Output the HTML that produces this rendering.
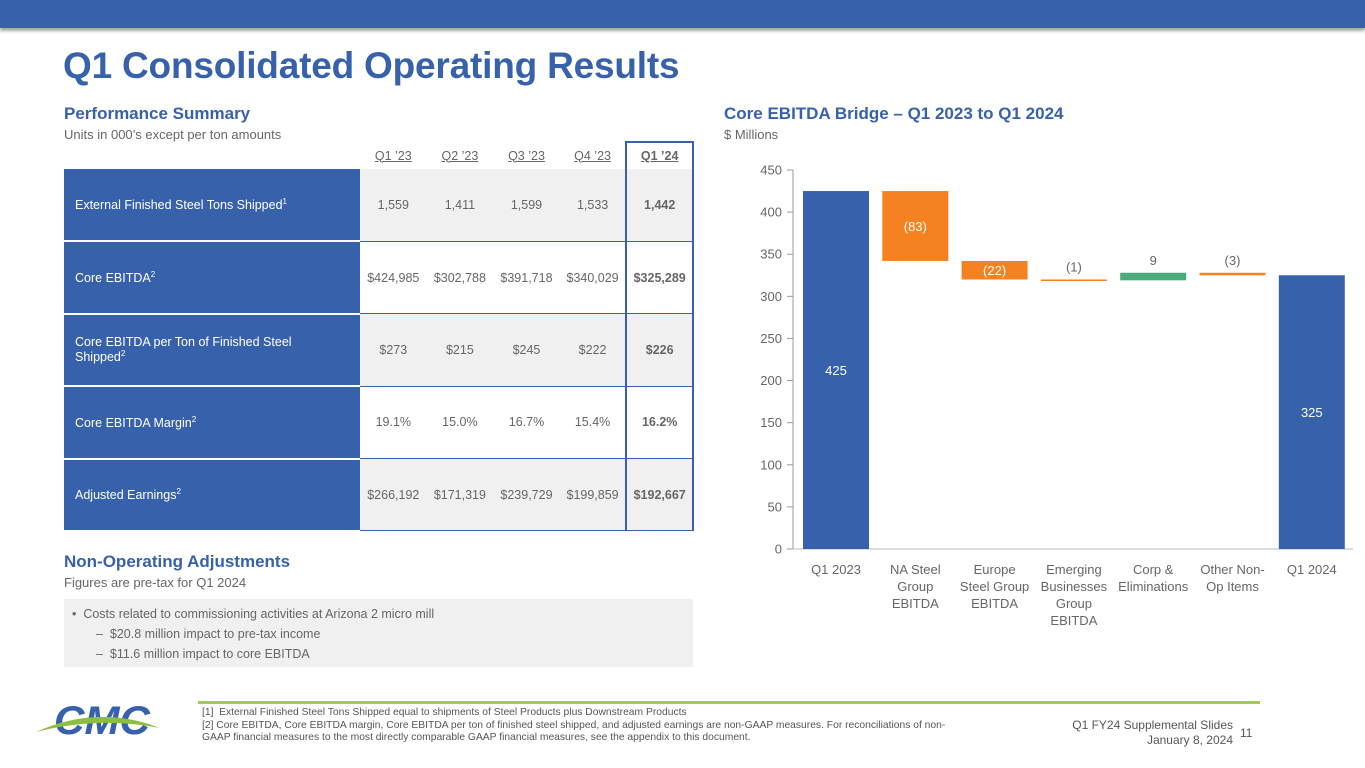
<!DOCTYPE html>
<html><head><meta charset="utf-8">
<style>
body{margin:0;width:1365px;height:768px;position:relative;overflow:hidden;background:#fff;font-family:"Liberation Sans",sans-serif;color:#666}
.a{position:absolute;white-space:nowrap}
.blue{color:#3761ab}
table{border-collapse:collapse;position:absolute;left:64px;top:141px;font-size:12.5px}
td{padding:0;height:72.4px;text-align:center;color:#666;box-sizing:border-box}
td.l{background:#3761ab;color:#fff;text-align:left;padding-left:11px;padding-right:50px;width:296px;border-bottom:2px solid #fff;white-space:normal}
tr.g td.v{background:#f0f0f0}
td.v{width:66.6px;border-bottom:1.5px solid #3761ab}
th{font-weight:normal;text-decoration:underline;font-size:12.5px;color:#666;height:26px;padding:0;text-align:center}
td.b,th.b{font-weight:bold;border-left:2px solid #3761ab;border-right:2px solid #3761ab}
th.b{border-top:2px solid #3761ab}
sup{font-size:8px}
</style></head><body>
<div style="position:absolute;left:0;top:0;width:1365px;height:28px;background:#3761ab;box-shadow:0 3px 3px rgba(0,0,0,.35)"></div>
<div class="a blue" style="left:63px;top:45px;font-size:37px;font-weight:bold;letter-spacing:-0.2px">Q1 Consolidated Operating Results</div>
<div class="a blue" style="left:64px;top:104px;font-size:17px;font-weight:bold">Performance Summary</div>
<div class="a" style="left:64px;top:127px;font-size:13px">Units in 000’s except per ton amounts</div>
<table>
<tr><th style="background:none"></th><th>Q1 ’23</th><th>Q2 ’23</th><th>Q3 ’23</th><th>Q4 ’23</th><th class="b">Q1 ’24</th></tr>
<tr class="g"><td class="l">External Finished Steel Tons Shipped<sup>1</sup></td><td class="v">1,559</td><td class="v">1,411</td><td class="v">1,599</td><td class="v">1,533</td><td class="v b">1,442</td></tr>
<tr><td class="l">Core EBITDA<sup>2</sup></td><td class="v">$424,985</td><td class="v">$302,788</td><td class="v">$391,718</td><td class="v">$340,029</td><td class="v b">$325,289</td></tr>
<tr class="g"><td class="l">Core EBITDA per Ton of Finished Steel Shipped<sup>2</sup></td><td class="v">$273</td><td class="v">$215</td><td class="v">$245</td><td class="v">$222</td><td class="v b">$226</td></tr>
<tr><td class="l">Core EBITDA Margin<sup>2</sup></td><td class="v">19.1%</td><td class="v">15.0%</td><td class="v">16.7%</td><td class="v">15.4%</td><td class="v b">16.2%</td></tr>
<tr class="g"><td class="l">Adjusted Earnings<sup>2</sup></td><td class="v">$266,192</td><td class="v">$171,319</td><td class="v">$239,729</td><td class="v">$199,859</td><td class="v b">$192,667</td></tr>
</table>
<div class="a blue" style="left:64px;top:552px;font-size:17px;font-weight:bold">Non-Operating Adjustments</div>
<div class="a" style="left:64px;top:575px;font-size:13px">Figures are pre-tax for Q1 2024</div>
<div style="position:absolute;left:64px;top:599px;width:629px;height:68px;background:#f0f0f0;font-size:12.5px;line-height:20px">
<div class="a" style="left:8px;top:5px">•&nbsp; Costs related to commissioning activities at Arizona 2 micro mill</div>
<div class="a" style="left:32px;top:25px">–&nbsp; $20.8 million impact to pre-tax income</div>
<div class="a" style="left:32px;top:45px">–&nbsp; $11.6 million impact to core EBITDA</div>
</div>
<div class="a blue" style="left:724px;top:104px;font-size:17px;font-weight:bold">Core EBITDA Bridge – Q1 2023 to Q1 2024</div>
<div class="a" style="left:724px;top:127px;font-size:13px">$ Millions</div>
<svg id="chart" style="position:absolute;left:0;top:0" width="1365" height="768"></svg>
<div style="position:absolute;left:36px;top:698px;width:124px;height:44px">
<svg width="124" height="44"><text x="66" y="36" text-anchor="middle" font-family="Liberation Sans" font-weight="bold" font-style="italic" font-size="40" fill="#3761ab" textLength="96" lengthAdjust="spacingAndGlyphs">CMC</text><path d="M0 34 Q62 6 124 30 Q62 18 0 34Z" fill="#8cbf3f"/></svg></div>
<div style="position:absolute;left:198px;top:701px;width:1062px;height:3px;background:#a5c85a"></div>
<div style="position:absolute;left:202px;top:707px;font-size:10.3px;line-height:12.5px;color:#555">[1]&nbsp; External Finished Steel Tons Shipped equal to shipments of Steel Products plus Downstream Products<br>[2] Core EBITDA, Core EBITDA margin, Core EBITDA per ton of finished steel shipped, and adjusted earnings are non-GAAP measures. For reconciliations of non-<br>GAAP financial measures to the most directly comparable GAAP financial measures, see the appendix to this document.</div>
<div style="position:absolute;right:132px;top:718px;font-size:12px;line-height:15px;text-align:right;color:#555">Q1 FY24 Supplemental Slides<br>January 8, 2024</div>
<div class="a" style="left:1240px;top:726px;font-size:12px;color:#555">11</div>
<script>
const categories=["Q1 2023","NA Steel|Group|EBITDA","Europe|Steel Group|EBITDA","Emerging|Businesses|Group|EBITDA","Corp &|Eliminations","Other Non-|Op Items","Q1 2024"];
const deltas=[425,-83,-22,-1,9,-3,325];
const kinds=["total","delta","delta","delta","delta","delta","total"];
const labels=["425","(83)","(22)","(1)","9","(3)","325"];
const yTicks=[0,50,100,150,200,250,300,350,400,450];
const ns="http://www.w3.org/2000/svg",svg=document.getElementById('chart');
const y0=549,y1=170,vMax=450,x0=795,step=79.3,bw=66;
const Y=v=>y0-(v/vMax)*(y0-y1);
const X=i=>x0+i*step+8;
function mk(t,a,txt){const e=document.createElementNS(ns,t);for(const k in a)e.setAttribute(k,a[k]);if(txt!==undefined)e.textContent=txt;svg.appendChild(e);return e;}
let ax=mk('line',{x1:793,y1:y1,x2:793,y2:y0,stroke:'#999'});


let xa=mk('line',{x1:793,y1:y0,x2:1353,y2:y0,stroke:'#bbb'});


yTicks.forEach(v=>{
 mk('line',{x1:787,y1:Y(v),x2:793,y2:Y(v),stroke:'#999'});
 const t=mk('text',{x:782,y:Y(v)+4.5,'text-anchor':'end','font-size':13,fill:'#666','font-family':'Liberation Sans'},v);
 
 
});
let run=0;
categories.forEach((c,i)=>{
 let lo,hi,col;
 if(kinds[i]==='total'){lo=0;hi=deltas[i];run=deltas[i];col='#3761ab';}
 else{const n=run+deltas[i];lo=Math.min(run,n);hi=Math.max(run,n);run=n;col=deltas[i]<0?'#f58220':'#4aac7a';}
 const h=Math.max(Y(lo)-Y(hi),1.5);
 const r=mk('rect',{x:X(i),y:Y(hi),width:bw,height:h,fill:col});
 
 
 let ly,lc='#fff';
 if(kinds[i]==='total'){ly=(Y(lo)+Y(hi))/2+5;}
 else if(h>18){ly=(Y(lo)+Y(hi))/2+5;}
 else{ly=Y(hi)-8;lc='#666';}
 const t=mk('text',{x:X(i)+bw/2,y:ly,'text-anchor':'middle','font-size':13,fill:lc,'font-family':'Liberation Sans'},labels[i]);
 
 
 c.split('|').forEach((ln,j)=>{
  const tt=mk('text',{x:X(i)+bw/2,y:574+j*17,'text-anchor':'middle','font-size':13,fill:'#666','font-family':'Liberation Sans'},ln);
  
  
 });
});
</script>
</body></html>
